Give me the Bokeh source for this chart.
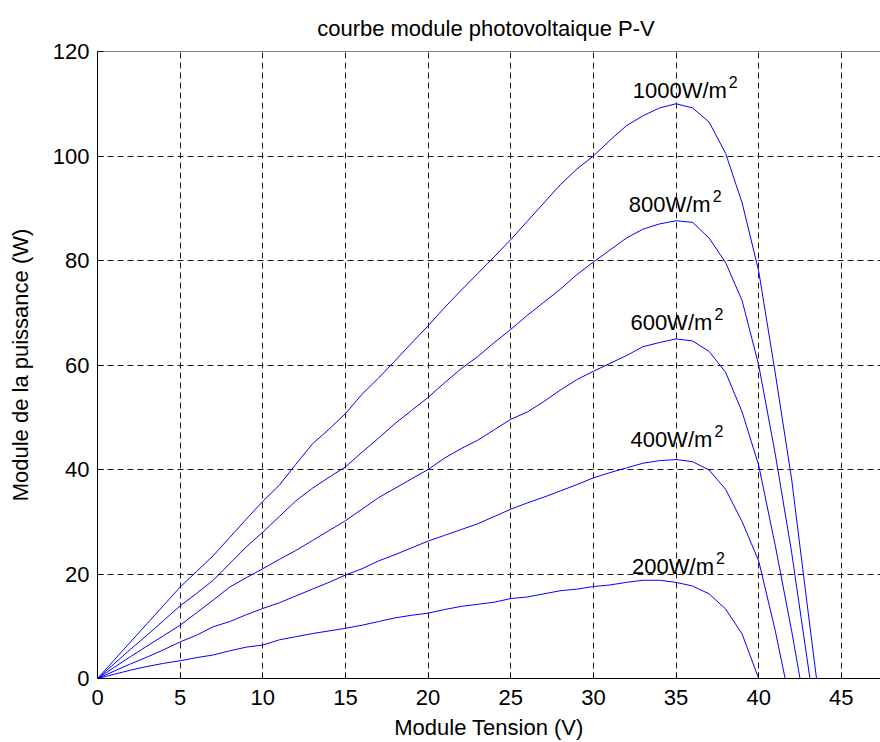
from bokeh.plotting import figure
from bokeh.models import ColumnDataSource, Range1d, FixedTicker, Span
from bokeh.embed import file_html
from bokeh.resources import INLINE
from bokeh.core.properties import value

# ---------------- data ----------------
title_text = "courbe module photovoltaique  P-V"
x_label = "Module Tension (V)"
y_label = "Module de la puissance (W)"
x_ticks = [0, 5, 10, 15, 20, 25, 30, 35, 40, 45]
y_ticks = [0, 20, 40, 60, 80, 100, 120]

v_1000 = [0, 1, 2, 3, 4, 5, 6, 7, 8, 9, 10, 11, 12, 13, 14, 15, 16, 17, 18, 19, 20,
          21, 22, 23, 24, 25, 26, 27, 28, 29, 30, 31, 32, 33, 34, 35, 36, 37, 38, 39,
          40, 41, 42, 43, 43.5, 44, 45]
p_1000 = [0, 3.5, 7.0, 10.5, 14.0, 17.5, 20.5, 23.5, 27.0, 30.5, 33.9, 37.0, 41.0,
          44.9, 47.7, 50.7, 54.4, 57.5, 60.8, 64.2, 67.5, 71.0, 74.3, 77.5, 80.7, 84.0,
          87.5, 91.0, 94.5, 97.5, 100.0, 103.0, 105.8, 107.7, 109.2, 110.0, 109.2,
          106.5, 100.5, 91.0, 78.0, 58.5, 38.0, 12.5, 0, 0, 0]

v_800 = [0, 1, 2, 3, 4, 5, 6, 7, 8, 9, 10, 11, 12, 13, 14, 15, 16, 17, 18, 19, 20,
         21, 22, 23, 24, 25, 26, 27, 28, 29, 30, 31, 32, 33, 34, 35, 36, 37, 38, 39,
         40, 41, 42, 43, 43.1, 44, 45]
p_800 = [0, 2.8, 5.6, 8.3, 11.1, 13.9, 16.3, 18.8, 22.0, 25.2, 28.0, 31.0, 34.0,
         36.4, 38.5, 40.5, 43.3, 46.0, 48.8, 51.3, 53.8, 56.6, 59.3, 61.6, 64.3, 66.8,
         69.5, 72.0, 74.5, 77.3, 79.7, 82.0, 84.3, 86.0, 87.0, 87.6, 87.3, 84.3, 79.6,
         72.3, 60.0, 43.0, 24.0, 2.2, 0, 0, 0]

v_600 = [0, 1, 2, 3, 4, 5, 6, 7, 8, 9, 10, 11, 12, 13, 14, 15, 16, 17, 18, 19, 20,
         21, 22, 23, 24, 25, 26, 27, 28, 29, 30, 31, 32, 33, 34, 35, 36, 37, 38, 39,
         40, 41, 42, 42.5, 43, 44, 45]
p_600 = [0, 2.1, 4.2, 6.2, 8.2, 10.2, 12.6, 15.0, 17.5, 19.3, 21.0, 22.8, 24.5,
         26.4, 28.3, 30.2, 32.4, 34.6, 36.4, 38.2, 40.0, 42.2, 44.0, 45.6, 47.6, 49.6,
         51.0, 53.0, 55.2, 57.2, 58.8, 60.3, 61.8, 63.5, 64.3, 65.0, 64.6, 62.6, 58.6,
         51.0, 40.8, 25.5, 9.0, 0, 0, 0, 0]

v_400 = [0, 1, 2, 3, 4, 5, 6, 7, 8, 9, 10, 11, 12, 13, 14, 15, 16, 17, 18, 19, 20,
         21, 22, 23, 24, 25, 26, 27, 28, 29, 30, 31, 32, 33, 34, 35, 36, 37, 38, 39,
         40, 41, 41.6, 42, 43, 44, 45]
p_400 = [0, 1.4, 2.8, 4.1, 5.5, 7.0, 8.3, 9.9, 10.9, 12.2, 13.4, 14.5, 15.8, 17.1,
         18.4, 19.8, 21.0, 22.5, 23.7, 25.0, 26.3, 27.4, 28.5, 29.6, 31.0, 32.4, 33.6,
         34.7, 35.9, 37.1, 38.4, 39.4, 40.3, 41.2, 41.7, 41.9, 41.5, 39.9, 36.2, 30.0,
         22.5, 9.2, 0, 0, 0, 0, 0]

v_200 = [0, 1, 2, 3, 4, 5, 6, 7, 8, 9, 10, 11, 12, 13, 14, 15, 16, 17, 18, 19, 20,
         21, 22, 23, 24, 25, 26, 27, 28, 29, 30, 31, 32, 33, 34, 35, 36, 37, 38, 39,
         40, 41, 42, 43, 44, 45]
p_200 = [0, 0.8, 1.6, 2.3, 2.9, 3.4, 4.0, 4.5, 5.3, 6.0, 6.4, 7.4, 8.0, 8.6, 9.1,
         9.6, 10.2, 10.9, 11.6, 12.1, 12.5, 13.2, 13.8, 14.2, 14.6, 15.3, 15.6, 16.2,
         16.8, 17.1, 17.6, 17.9, 18.4, 18.8, 18.8, 18.4, 17.7, 16.2, 13.3, 8.5, 0,
         0, 0, 0, 0, 0]

label_main = ["1000W/m", "800W/m", "600W/m", "400W/m", "200W/m"]
label_sup = ["2", "2", "2", "2", "2"]
label_x = [32.38, 32.14, 32.24, 32.24, 32.34]
label_y = [112.6, 90.7, 68.2, 45.7, 21.5]

# ---------------- figure ----------------
FONT = "Liberation Sans"
p = figure(width=880, height=742, output_backend="svg", toolbar_location=None,
           x_range=Range1d(0, 47.37), y_range=Range1d(0, 120),
           min_border_left=97, min_border_right=0, min_border_top=51,
           min_border_bottom=64, title=title_text)
p.outline_line_color = None
p.background_fill_color = "white"
p.border_fill_color = "white"

p.title.text_font = FONT
p.title.text_font_size = "22px"
p.title.text_font_style = "normal"
p.title.text_color = "black"
p.title.align = "center"
p.title.standoff = 22
p.title.text_line_height = 0.9

for ax in (p.xaxis[0], p.yaxis[0]):
    ax.axis_line_color = "black"
    ax.axis_line_width = 1
    ax.major_tick_in = 6
    ax.major_tick_out = 0
    ax.major_tick_line_color = "black"
    ax.minor_tick_line_color = None
    ax.major_label_text_font = FONT
    ax.major_label_text_font_size = "22px"
    ax.major_label_text_color = "black"
    ax.axis_label_text_font = FONT
    ax.axis_label_text_font_size = "22px"
    ax.axis_label_text_font_style = "normal"
    ax.axis_label_text_color = "black"

p.xaxis.ticker = FixedTicker(ticks=x_ticks)
p.yaxis.ticker = FixedTicker(ticks=y_ticks)
p.xaxis.axis_label = x_label
p.yaxis.axis_label = y_label
p.xaxis.major_label_standoff = 11
p.xaxis.axis_label_standoff = 7
p.yaxis.major_label_standoff = 8
p.yaxis.axis_label_standoff = 17

p.xgrid.ticker = FixedTicker(ticks=x_ticks)
p.ygrid.ticker = FixedTicker(ticks=y_ticks)
for g in (p.xgrid[0], p.ygrid[0]):
    g.grid_line_color = "black"
    g.grid_line_dash = "6 4"
    g.grid_line_width = 1
    g.grid_line_alpha = 0.9

p.add_layout(Span(location=120, dimension="width", line_color="black", line_width=1))

for v, pw in [(v_1000, p_1000), (v_800, p_800), (v_600, p_600), (v_400, p_400), (v_200, p_200)]:
    src = ColumnDataSource(dict(v=v, p=pw))
    p.line(x="v", y="p", source=src, line_color="#0000ff", line_width=1)

label_src = ColumnDataSource(dict(x=label_x, y=label_y, main=label_main, sup=label_sup,
                                  dx=[96, 84, 84, 84, 84]))
p.text(x="x", y="y", text="main", source=label_src, text_font=value(FONT),
       text_font_size="22px", text_baseline="middle", text_align="left",
       text_color="black")
p.text(x="x", y="y", text="sup", source=label_src, text_font=value(FONT),
       text_font_size="16px", text_baseline="middle", text_align="left",
       text_color="black", x_offset="dx", y_offset=-8.5)

open("out.html", "w").write(file_html(p, INLINE))
